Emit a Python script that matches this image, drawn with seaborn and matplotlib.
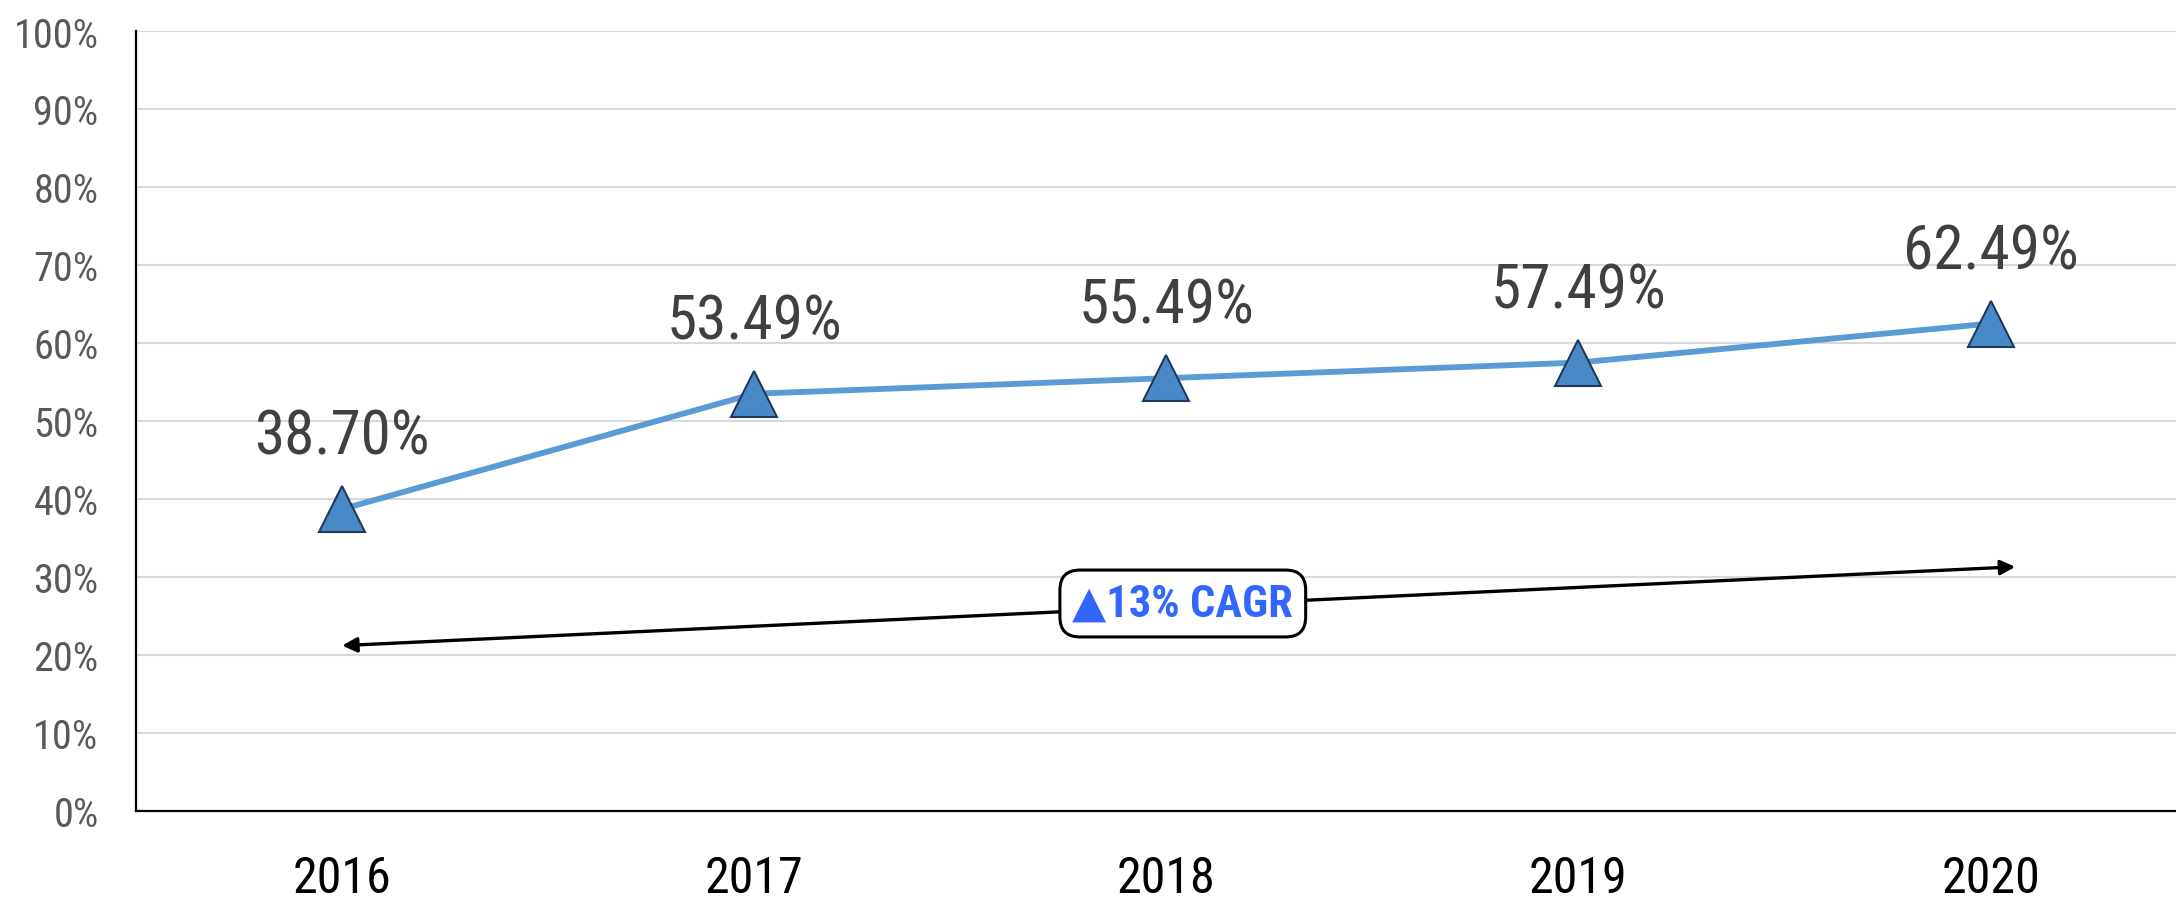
import matplotlib
matplotlib.use('Agg')
import matplotlib.pyplot as plt
import pandas as pd
import seaborn as sns

# -- Data ----------------------------------------------------
YEARS  = ['2016', '2017', '2018', '2019', '2020']
SHARE  = [38.70, 53.49, 55.49, 57.49, 62.49]
LABELS = ['38.70%', '53.49%', '55.49%', '57.49%', '62.49%']
CAGR_TEXT = '\u25B213% CAGR'
ARROW_FROM = (0.0, 21.2)   # (category index, %)
ARROW_TO   = (4.06, 31.3)
CAGR_POS   = (2.04, 26.6)

df = pd.DataFrame({'year': YEARS, 'share': SHARE})
df['pos'] = range(len(df))

# -- Style ---------------------------------------------------
sns.set_style('white')
FONT = ['Roboto Condensed', 'Roboto', 'DejaVu Sans']
plt.rcParams['font.family'] = FONT

LINE_COLOR = '#5B9BD5'

fig = plt.figure(figsize=(21.76, 9.04), dpi=100)
ax = fig.add_axes([0.0625, 0.1018, 0.9375, 0.8628])

sns.lineplot(data=df, x='pos', y='share', ax=ax, color=LINE_COLOR,
             linewidth=4.2, marker='^', markersize=33,
             markerfacecolor='#4A89C8', markeredgecolor='#1F3B5C',
             markeredgewidth=1.5, zorder=3)

for x, y, lab in zip(df['pos'], df['share'], LABELS):
    ax.annotate(lab, (x, y), xytext=(0, 52), textcoords='offset points',
                ha='center', va='center', fontsize=44, color='#404040')

# CAGR arrow + box
ax.annotate('', xy=ARROW_TO, xytext=ARROW_FROM,
            arrowprops=dict(arrowstyle='<|-|>', color='black', lw=2.4,
                            mutation_scale=22, shrinkA=0, shrinkB=0),
            zorder=2)
ax.text(CAGR_POS[0], CAGR_POS[1], CAGR_TEXT, ha='center', va='center',
        fontsize=32, fontweight='bold', color='#3366FF', zorder=4,
        bbox=dict(boxstyle='round,pad=0.28,rounding_size=0.45',
                  facecolor='white', edgecolor='black', linewidth=2.2))

# -- Axes ----------------------------------------------------
ax.set_ylim(0, 100)
ax.set_xlim(-0.5, 4.45)
ax.set_yticks(range(0, 101, 10))
ax.set_yticklabels([f'{v}%' for v in range(0, 101, 10)],
                   fontsize=29, color='#595959')
ax.set_xticks(df['pos'])
ax.set_xticklabels(YEARS, fontsize=36, color='black')
ax.tick_params(axis='y', length=0, pad=27)
ax.tick_params(axis='x', length=0, pad=31)
ax.set_xlabel('')
ax.set_ylabel('')
ax.yaxis.grid(True, color='#D9D9D9', linewidth=1.5)
ax.set_axisbelow(True)
for s in ['top', 'right']:
    ax.spines[s].set_visible(False)
for s in ['left', 'bottom']:
    ax.spines[s].set_color('black')
    ax.spines[s].set_linewidth(1.6)

fig.savefig('out.png', dpi=100)
